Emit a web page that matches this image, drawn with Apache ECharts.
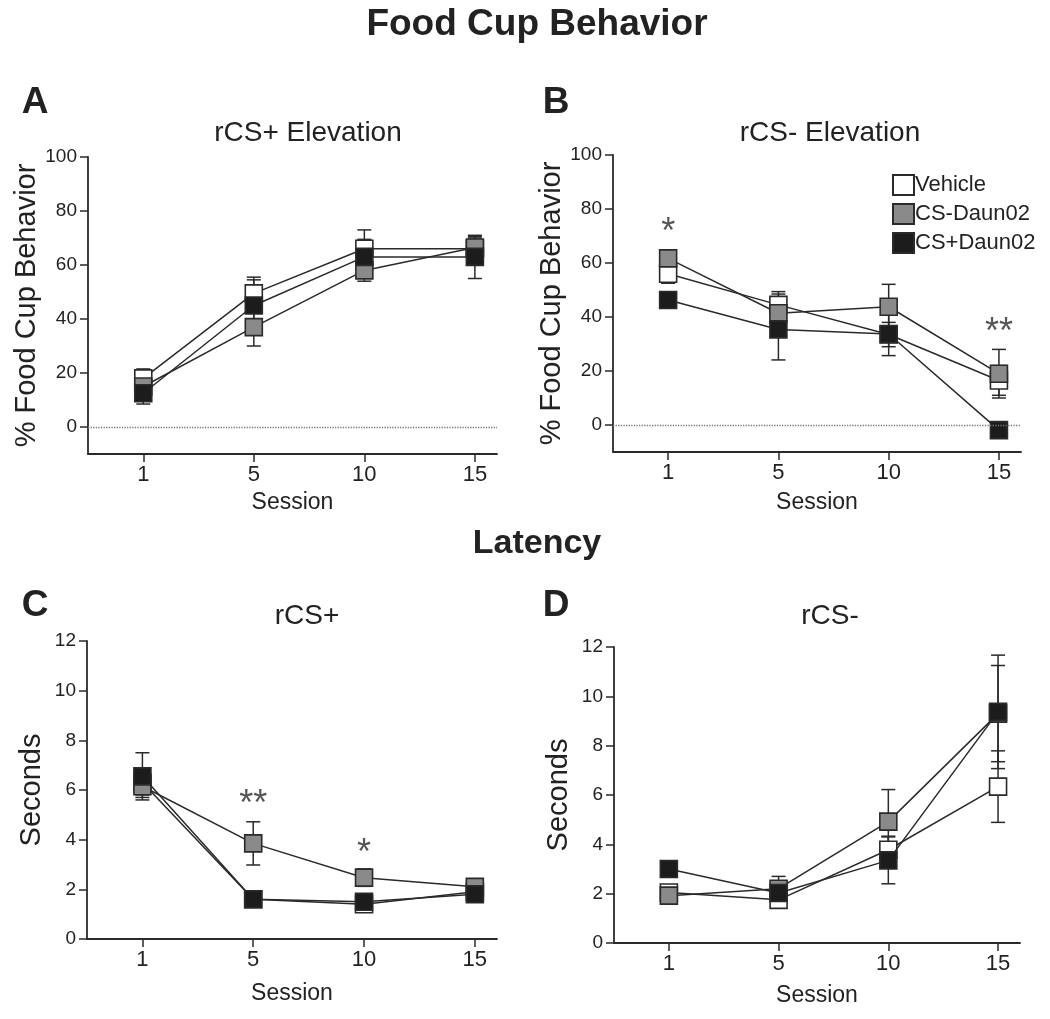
<!DOCTYPE html>
<html>
<head>
<meta charset="utf-8">
<script src="https://cdn.jsdelivr.net/npm/echarts@6/dist/echarts.min.js"></script>
<style>
  html, body { margin: 0; padding: 0; background: #fff; }
  #main { width: 1050px; height: 1019px; }
</style>
</head>
<body>
<div id="main"></div>
<script>
// sessions on the x axis (drawn at index positions 0..3)
var sessions = ['1', '5', '10', '15'];
var sessionPos = [0, 1, 2, 3];
var groups = ['Vehicle', 'CS-Daun02', 'CS+Daun02'];

// A: rCS+ Elevation (% food cup behavior), mean and sem
var aVehicle = [18, 49.5, 66, 66];
var aVehicleErr = [3.5, 6, 7, 4];
var aMinus = [15, 37, 58, 66.5];
var aMinusErr = [3, 7, 4, 4];
var aPlus = [12.5, 45, 63, 63];
var aPlusErr = [4, 9.5, 6.5, 8];

// B: rCS- Elevation
var bVehicle = [56, 44.5, 33.5, 16.5];
var bVehicleErr = [3.5, 4, 4.5, 5.5];
var bMinus = [61.7, 41.4, 43.8, 19];
var bMinusErr = [3, 8, 8.3, 9];
var bPlus = [46.3, 35.4, 33.7, -1.9];
var bPlusErr = [2.5, 11.3, 8, 3];

// C: latency rCS+ (seconds)
var cVehicle = [6.3, 1.6, 1.4, 1.9];
var cVehicleErr = [0.5, 0.15, 0.15, 0.2];
var cMinus = [6.15, 3.85, 2.47, 2.1];
var cMinusErr = [0.45, 0.87, 0.35, 0.1];
var cPlus = [6.55, 1.6, 1.5, 1.8];
var cPlusErr = [0.95, 0.15, 0.2, 0.15];

// D: latency rCS-
var dVehicle = [2.05, 1.75, 3.78, 6.34];
var dVehicleErr = [0.15, 0.3, 0.55, 1.45];
var dMinus = [1.92, 2.2, 4.92, 9.3];
var dMinusErr = [0.15, 0.5, 1.3, 1.95];
var dPlus = [3.0, 2.03, 3.35, 9.37];
var dPlusErr = [0.3, 0.3, 0.95, 2.3];

// significance marks
var bSigX = [0, 3];
var bSigY = [71, 34];
var bSigText = ['*', '**'];
var cSigX = [1, 2];
var cSigY = [5.4, 3.4];
var cSigText = ['**', '*'];

// y ticks
var pctTicks = [0, 20, 40, 60, 80, 100];

var ink = '#2a2a2a';
var txt = '#222';
var font = 'Liberation Sans, Arial, sans-serif';
var fills = ['#ffffff', '#8a8a8a', '#1c1c1c'];

var chart = echarts.init(document.getElementById('main'));

var panels = [
  { grid: { left: 88, top: 157, width: 409, height: 297 }, min: -10, max: 100, ticks: pctTicks,
    yName: '% Food Cup Behavior', zero: true, sessionGap: 37,
    means: [aVehicle, aMinus, aPlus], errs: [aVehicleErr, aMinusErr, aPlusErr] },
  { grid: { left: 613, top: 155, width: 408, height: 297 }, min: -10, max: 100, ticks: pctTicks,
    yName: '% Food Cup Behavior', zero: true, sessionGap: 39,
    means: [bVehicle, bMinus, bPlus], errs: [bVehicleErr, bMinusErr, bPlusErr],
    sig: [bSigX, bSigY, bSigText] },
  { grid: { left: 87, top: 641, width: 410, height: 298 }, min: 0, max: 12, interval: 2,
    yName: 'Seconds', sessionGap: 43,
    means: [cVehicle, cMinus, cPlus], errs: [cVehicleErr, cMinusErr, cPlusErr],
    sig: [cSigX, cSigY, cSigText] },
  { grid: { left: 614, top: 647, width: 406, height: 296 }, min: 0, max: 12, interval: 2,
    yName: 'Seconds', sessionGap: 41,
    means: [dVehicle, dMinus, dPlus], errs: [dVehicleErr, dMinusErr, dPlusErr] }
];

function errorBar(params, api) {
  var x = api.value(0), m = api.value(1), e = api.value(2);
  var top = api.coord([x, m + e]);
  var bot = api.coord([x, m - e]);
  var w = 7;
  var st = { stroke: ink, lineWidth: 1.5 };
  return {
    type: 'group',
    children: [
      { type: 'line', shape: { x1: top[0], y1: top[1], x2: bot[0], y2: bot[1] }, style: st },
      { type: 'line', shape: { x1: top[0] - w, y1: top[1], x2: top[0] + w, y2: top[1] }, style: st },
      { type: 'line', shape: { x1: bot[0] - w, y1: bot[1], x2: bot[0] + w, y2: bot[1] }, style: st }
    ]
  };
}

var grids = [], xAxes = [], yAxes = [], series = [];

panels.forEach(function (p, i) {
  grids.push(p.grid);
  xAxes.push({
    type: 'value', gridIndex: i, min: -0.5, max: 3.2,
    name: 'Session', nameLocation: 'middle', nameGap: p.sessionGap,
    nameTextStyle: { fontSize: 23, color: txt, fontFamily: font },
    axisLine: { onZero: false, lineStyle: { color: ink, width: 1.8 } },
    axisTick: { customValues: sessionPos, length: 8, lineStyle: { color: ink, width: 1.5 } },
    axisLabel: {
      customValues: sessionPos, margin: 10, fontSize: 22, color: txt, fontFamily: font,
      formatter: function (v) { return sessions[Math.round(v)]; }
    },
    splitLine: { show: false }
  });
  var yAx = {
    type: 'value', gridIndex: i, min: p.min, max: p.max,
    name: p.yName, nameLocation: 'middle', nameGap: 41,
    nameTextStyle: { fontSize: 29, color: txt, fontFamily: font },
    axisLine: { show: true, onZero: false, lineStyle: { color: ink, width: 1.8 } },
    axisTick: { show: true, length: 8, lineStyle: { color: ink, width: 1.5 } },
    axisLabel: { margin: 11, fontSize: 19, color: txt, fontFamily: font },
    splitLine: { show: false }
  };
  if (p.ticks) {
    yAx.axisTick.customValues = p.ticks;
    yAx.axisLabel.customValues = p.ticks;
  } else {
    yAx.interval = p.interval;
  }
  yAxes.push(yAx);

  // error bars under the lines
  groups.forEach(function (g, k) {
    series.push({
      type: 'custom', xAxisIndex: i, yAxisIndex: i, z: 1, silent: true,
      renderItem: errorBar,
      encode: { x: 0, y: 1 },
      data: sessionPos.map(function (x, j) { return [x, p.means[k][j], p.errs[k][j]]; })
    });
  });

  groups.forEach(function (g, k) {
    var s = {
      type: 'line', name: g, xAxisIndex: i, yAxisIndex: i, z: 2 + k,
      symbol: 'rect', symbolSize: 17, showSymbol: true,
      lineStyle: { color: ink, width: 1.5 },
      itemStyle: { color: fills[k], borderColor: ink, borderWidth: 1.6 },
      emphasis: { disabled: true },
      data: sessionPos.map(function (x, j) { return [x, p.means[k][j]]; })
    };
    if (p.zero && k === 0) {
      s.markLine = {
        silent: true, symbol: 'none', label: { show: false },
        lineStyle: { type: 'dotted', color: '#777', width: 1.3 },
        data: [{ yAxis: 0 }]
      };
    }
    series.push(s);
  });

  if (p.sig) {
    series.push({
      type: 'scatter', xAxisIndex: i, yAxisIndex: i, z: 5, silent: true,
      symbolSize: 1, itemStyle: { color: 'rgba(0,0,0,0)' },
      label: { show: true, position: 'inside', formatter: '{b}', fontSize: 36, color: '#2a2a2a', fontFamily: font },
      data: p.sig[0].map(function (x, j) { return { name: p.sig[2][j], value: [x, p.sig[1][j]] }; })
    });
  }
});

function label(text, x, y, size, bold) {
  return {
    type: 'text', x: x, y: y,
    style: {
      text: text, fill: txt, fontSize: size, fontWeight: bold ? 'bold' : 'normal',
      fontFamily: font, textAlign: 'center', textVerticalAlign: 'middle'
    }
  };
}

chart.setOption({
  animation: false,
  backgroundColor: '#fff',
  grid: grids,
  xAxis: xAxes,
  yAxis: yAxes,
  series: series,
  legend: {
    data: groups.map(function (g) { return { name: g, icon: 'rect' }; }),
    orient: 'vertical', left: 887, top: 169,
    itemWidth: 21, itemHeight: 20, itemGap: 7, selectedMode: false,
    textStyle: { fontSize: 22, color: txt, fontFamily: font, padding: [0, 0, 0, -4] }
  },
  graphic: [
    label('Food Cup Behavior', 537, 25, 37, true),
    label('Latency', 537, 544, 34, true),
    label('A', 35, 103, 37, true),
    label('B', 556, 103, 37, true),
    label('C', 35, 606, 37, true),
    label('D', 556, 606, 37, true),
    label('rCS+ Elevation', 308, 133, 28, false),
    label('rCS- Elevation', 830, 133, 28, false),
    label('rCS+', 307, 616, 28, false),
    label('rCS-', 830, 616, 28, false)
  ]
});
</script>
</body>
</html>
